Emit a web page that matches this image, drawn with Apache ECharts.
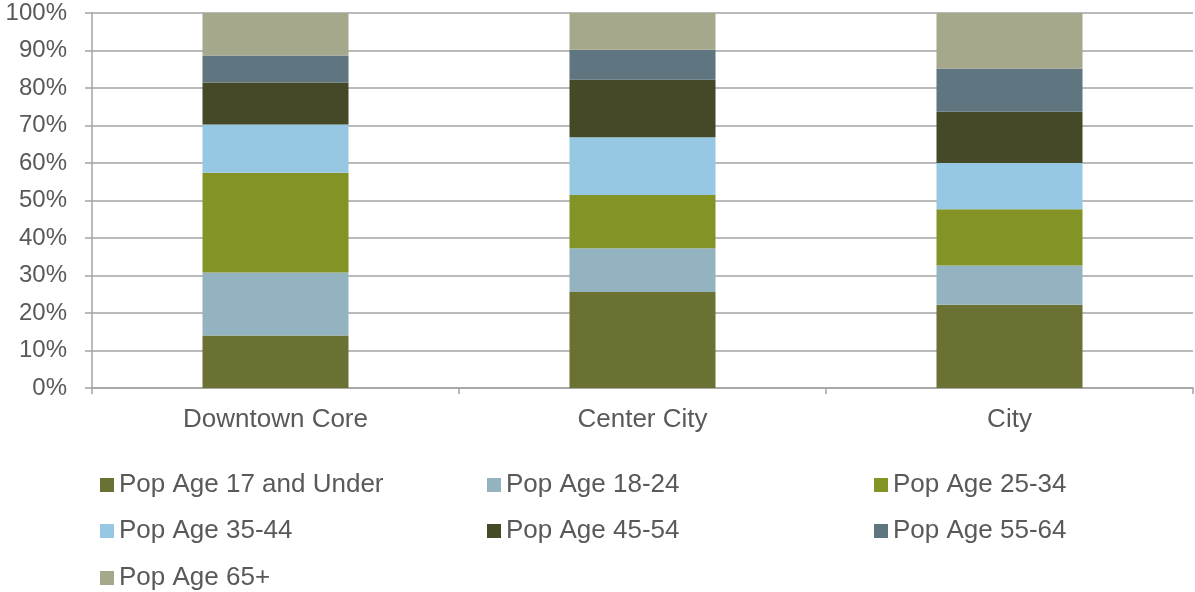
<!DOCTYPE html>
<html>
<head>
<meta charset="utf-8">
<script src="https://cdn.jsdelivr.net/npm/echarts@6/dist/echarts.min.js"></script>
<style>
html,body{margin:0;padding:0;background:#fff;}
#chart{width:1195px;height:592px;}
</style>
</head>
<body>
<div id="chart"></div>
<script>
var categories = ['Downtown Core', 'Center City', 'City'];
var seriesNames = ['Pop Age 17 and Under', 'Pop Age 18-24', 'Pop Age 25-34', 'Pop Age 35-44', 'Pop Age 45-54', 'Pop Age 55-64', 'Pop Age 65+'];
var age17Under = [14.0, 25.6, 22.2];
var age18to24 = [16.8, 11.7, 10.5];
var age25to34 = [26.6, 14.2, 15.0];
var age35to44 = [12.9, 15.4, 12.3];
var age45to54 = [11.2, 15.3, 13.7];
var age55to64 = [7.2, 8.0, 11.5];
var age65Plus = [11.3, 9.8, 14.8];
var colors = ['#6B7133', '#94B3C1', '#849326', '#96C7E3', '#454927', '#5F7580', '#A5A88A'];

var values = [age17Under, age18to24, age25to34, age35to44, age45to54, age55to64, age65Plus];
var textColor = '#595959';
var lineColor = '#a3a3a3';

var series = seriesNames.map(function (name, i) {
  return {
    name: name,
    type: 'bar',
    stack: 'total',
    barWidth: 146,
    data: values[i],
    itemStyle: { color: colors[i] },
    emphasis: { disabled: true }
  };
});

// legend laid out as 3 columns; one legend component per item
var legendCols = [100, 487, 874];
var legendRows = [471, 517, 564];
var legends = seriesNames.map(function (name, i) {
  return {
    orient: 'horizontal',
    left: legendCols[i % 3],
    top: legendRows[Math.floor(i / 3)],
    padding: 0,
    icon: 'rect',
    itemWidth: 14,
    itemHeight: 14,
    itemTextGap: 8,
    selectedMode: false,
    data: [name],
    textStyle: { color: textColor, fontSize: 26, fontFamily: 'Liberation Sans, Arial, sans-serif', lineHeight: 28 }
  };
});

var option = {
  animation: false,
  color: colors,
  grid: { left: 92, right: 2, top: 13, bottom: 204, containLabel: false },
  xAxis: {
    type: 'category',
    data: categories,
    axisLine: { show: true, lineStyle: { color: lineColor, width: 1.5 } },
    axisTick: { show: true, length: 6, lineStyle: { color: lineColor, width: 1.5 } },
    axisLabel: { color: textColor, fontSize: 26, margin: 19, fontFamily: 'Liberation Sans, Arial, sans-serif' },
    splitLine: { show: false }
  },
  yAxis: {
    type: 'value',
    min: 0,
    max: 100,
    interval: 10,
    axisLine: { show: true, lineStyle: { color: lineColor, width: 1.5 } },
    axisTick: { show: true, length: 7, lineStyle: { color: lineColor, width: 1.5 } },
    axisLabel: { color: textColor, fontSize: 24, margin: 25, formatter: '{value}%', fontFamily: 'Liberation Sans, Arial, sans-serif' },
    splitLine: { show: true, lineStyle: { color: lineColor, width: 1.5 } }
  },
  legend: legends,
  series: series
};

var chart = echarts.init(document.getElementById('chart'), null, { renderer: 'canvas' });
chart.setOption(option);
</script>
</body>
</html>
